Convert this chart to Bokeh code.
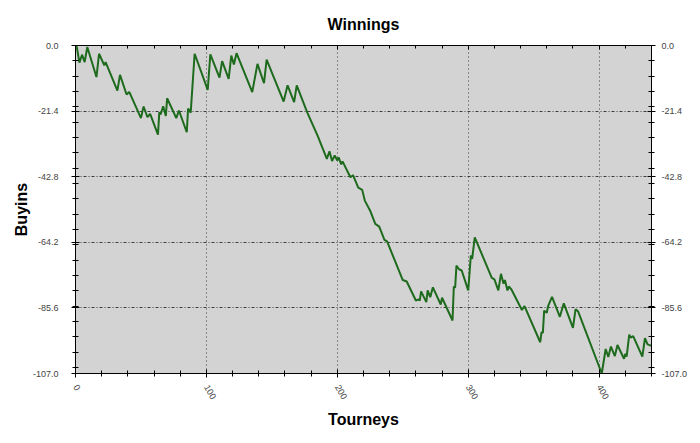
import math
from bokeh.plotting import figure
from bokeh.models import (Range1d, LinearAxis, FixedTicker, PrintfTickFormatter)
from bokeh.embed import file_html
from bokeh.resources import INLINE

# ---- data ----
tourneys = [0, 1, 3, 5, 7, 9, 16, 18, 22, 23, 32, 34, 39, 41, 42, 50, 52, 55, 57,
            63, 64, 65, 67, 69, 70, 77, 79, 85, 86, 88, 91, 101, 103, 110, 112,
            117, 119, 121, 123, 135, 139, 144, 146, 159, 162, 167, 169, 177, 185,
            192, 194, 196, 198, 200, 201, 203, 204, 210, 212, 216, 219, 221, 225,
            229, 232, 236, 238, 250, 253, 260, 262, 263, 264, 268, 269, 271, 273,
            279, 280, 288, 289, 290, 291, 293, 295, 300, 302, 303, 305, 318, 320,
            323, 325, 327, 328, 330, 331, 333, 341, 343, 355, 356, 357, 358, 360,
            361, 364, 370, 373, 380, 382, 384, 402, 405, 407, 409, 412, 414, 419,
            420, 421, 423, 424, 426, 433, 435, 437, 440]
buyins = [0.0, -0.5, -5.6, -3.0, -5.4, -0.5, -10.3, -2.7, -6.5, -5.4, -14.7, -9.6,
          -16.0, -15.2, -16.0, -23.7, -19.9, -23.4, -22.3, -29.1, -21.8, -22.5,
          -19.8, -23.0, -17.2, -23.7, -21.2, -28.3, -20.6, -21.9, -2.7, -14.5,
          -2.9, -10.5, -5.1, -10.9, -3.3, -6.2, -2.5, -15.2, -6.0, -12.3, -4.6,
          -18.3, -13.0, -18.5, -13.0, -21.8, -29.5, -37.0, -34.5, -37.7, -35.9,
          -37.5, -36.5, -38.8, -37.8, -43.0, -42.3, -46.4, -47.1, -50.6, -53.8,
          -58.2, -59.1, -63.4, -63.9, -76.5, -77.0, -83.2, -82.8, -83.2, -80.2,
          -83.7, -79.9, -82.1, -78.9, -84.5, -82.3, -89.7, -78.6, -79.0, -71.8,
          -73.0, -73.4, -79.9, -68.5, -69.6, -62.6, -75.8, -76.3, -79.9, -74.5,
          -77.7, -76.5, -79.9, -78.6, -79.6, -86.3, -85.0, -96.8, -93.5, -93.8,
          -86.5, -87.2, -85.0, -82.0, -88.5, -84.1, -92.1, -86.0, -86.8, -107.0,
          -99.0, -101.6, -98.2, -101.3, -97.7, -102.2, -100.6, -101.5, -94.3,
          -95.3, -94.8, -101.5, -95.5, -97.5, -98.0]

y_major = [0.0, -21.4, -42.8, -64.2, -85.6, -107.0]
y_minor = [-5, -10, -15, -20, -25, -30, -35, -40, -45, -50, -55, -60, -65,
           -70, -75, -80, -85, -90, -95, -100, -105]
x_major = [0, 100, 200, 300, 400]
x_minor = [20, 40, 60, 80, 120, 140, 160, 180, 220, 240, 260, 280, 320, 340,
           360, 380, 420, 440]

FONT = "Liberation Sans"

p = figure(width=700, height=443, output_backend="svg", toolbar_location=None,
           x_range=Range1d(0, 440), y_range=Range1d(-107, 0),
           min_border_left=75, min_border_right=49, min_border_top=45,
           min_border_bottom=70)

p.background_fill_color = "#d3d3d3"
p.border_fill_color = "white"
p.outline_line_color = "black"
p.outline_line_width = 1

p.title.text = "Winnings"
p.title.align = "center"
p.title.text_font = FONT
p.title.text_font_size = "16px"
p.title.text_font_style = "bold"
p.title.text_color = "black"
p.title.standoff = 25

p.line(tourneys, buyins, line_color="#1e6b1e", line_width=2)

xt = FixedTicker(ticks=x_major, minor_ticks=x_minor)
yt = FixedTicker(ticks=y_major, minor_ticks=y_minor)


def style_axis(ax):
    ax.axis_line_color = "black"
    ax.major_tick_line_color = "black"
    ax.minor_tick_line_color = "black"
    ax.major_tick_in = 4
    ax.major_tick_out = 4
    ax.minor_tick_in = 3
    ax.minor_tick_out = 3
    ax.major_label_text_font = FONT
    ax.major_label_text_font_size = "9px"
    ax.major_label_text_color = "#444444"
    ax.axis_label_text_font = FONT
    ax.axis_label_text_font_size = "16px"
    ax.axis_label_text_font_style = "bold"
    ax.axis_label_text_color = "black"


# bottom axis
xa = p.xaxis[0]
xa.ticker = xt
style_axis(xa)
xa.axis_label = "Tourneys"
xa.major_label_orientation = -math.pi / 3
xa.major_label_standoff = 8
xa.axis_label_standoff = 6

# left axis
ya = p.yaxis[0]
ya.ticker = yt
ya.formatter = PrintfTickFormatter(format="%.1f")
style_axis(ya)
ya.axis_label = "Buyins"
ya.major_label_standoff = 13
ya.axis_label_standoff = 0

# right axis
ra = LinearAxis(ticker=FixedTicker(ticks=y_major, minor_ticks=y_minor),
                formatter=PrintfTickFormatter(format="%.1f"))
style_axis(ra)
ra.major_label_standoff = 6
p.add_layout(ra, "right")

# top axis (ticks only, no labels)
ta = LinearAxis(ticker=FixedTicker(ticks=x_major, minor_ticks=x_minor),
                major_label_overrides={t: "" for t in x_major})
style_axis(ta)
ta.major_tick_out = 0
ta.minor_tick_out = 0
ta.major_label_standoff = 0
p.add_layout(ta, "above")

# grids
p.xgrid.ticker = FixedTicker(ticks=[100, 200, 300, 400])
p.ygrid.ticker = FixedTicker(ticks=[-21.4, -42.8, -64.2, -85.6])
p.xgrid.grid_line_color = "#3c3c3c"
p.xgrid.grid_line_dash = "1 3"
p.xgrid.grid_line_width = 1
p.ygrid.grid_line_color = "#3c3c3c"
p.ygrid.grid_line_dash = "3 2 1 2"
p.ygrid.grid_line_width = 1

open("out.html", "w").write(file_html(p, INLINE))
